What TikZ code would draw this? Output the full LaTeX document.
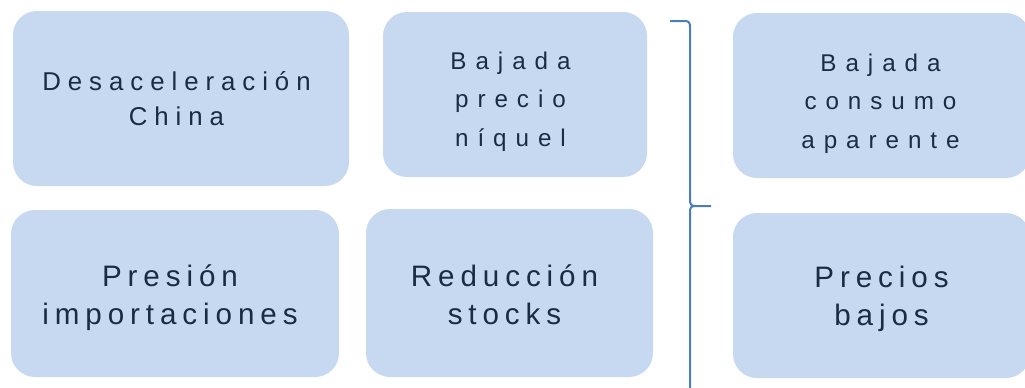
\documentclass[tikz,border=0pt]{standalone}
\usepackage{fontspec}
\setmainfont{Liberation Sans}
\definecolor{boxfill}{HTML}{C7D9F0}
\definecolor{boxtext}{HTML}{1A2B45}
\definecolor{bracecol}{HTML}{4A7EBB}
\begin{document}
\begin{tikzpicture}[x=1pt,y=-1pt,
	box/.style={fill=boxfill, rounded corners=24pt, inner sep=0pt},
	words/.style={align=center, text=boxtext, inner sep=0pt},
	wide/.style={words, font=\fontsize{25.8}{35}\selectfont\addfontfeatures{LetterSpace=27}},
	tall/.style={words, font=\fontsize{24.2}{38.3}\selectfont\addfontfeatures{LetterSpace=37}},
	low/.style={words, font=\fontsize{29.6}{38.3}\selectfont\addfontfeatures{LetterSpace=20}}]
	\useasboundingbox (0,0) rectangle (1025,388);
	\node[box, minimum width=336, minimum height=175] (desac) at (181,98.5) {};
	\node[box, minimum width=264, minimum height=165] (precio) at (515,94.5) {};
	\node[box, minimum width=297, minimum height=165] (consumo) at (881.5,95.5) {};
	\node[box, minimum width=328, minimum height=167] (presion) at (175,293.5) {};
	\node[box, minimum width=287, minimum height=168] (stocks) at (509.5,293) {};
	\node[box, minimum width=297, minimum height=165] (precios) at (881.5,295.5) {};
	\node[wide] (desac-t) at ([xshift=-4.5pt]desac.center) {Desaceleración\\China};
	\node[tall] (precio-t) at ([xshift=-4.5pt,yshift=-7pt]precio.center) {Bajada\\precio\\níquel};
	\node[tall] (consumo-t) at ([xshift=-1pt,yshift=-8pt]consumo.center) {Bajada\\consumo\\aparente};
	\node[low] (presion-t) at ([xshift=-5pt,yshift=-4pt]presion.center) {Presión\\importaciones};
	\node[low] (stocks-t) at ([xshift=-5pt,yshift=-2pt]stocks.center) {Reducción\\stocks};
	\node[low] (precios-t) at ([yshift=-3pt]precios.center) {Precios\\bajos};
	\draw[bracecol, line width=2pt] (670,21) -- (685,21) .. controls (689,21) and (690,23) .. (690,27) -- (690,200) .. controls (690,204) and (691,206) .. (695,206) -- (711,206);
	\draw[bracecol, line width=2pt] (695,206) .. controls (691,206) and (690,208) .. (690,212) -- (690,392);
\end{tikzpicture}
\end{document}
